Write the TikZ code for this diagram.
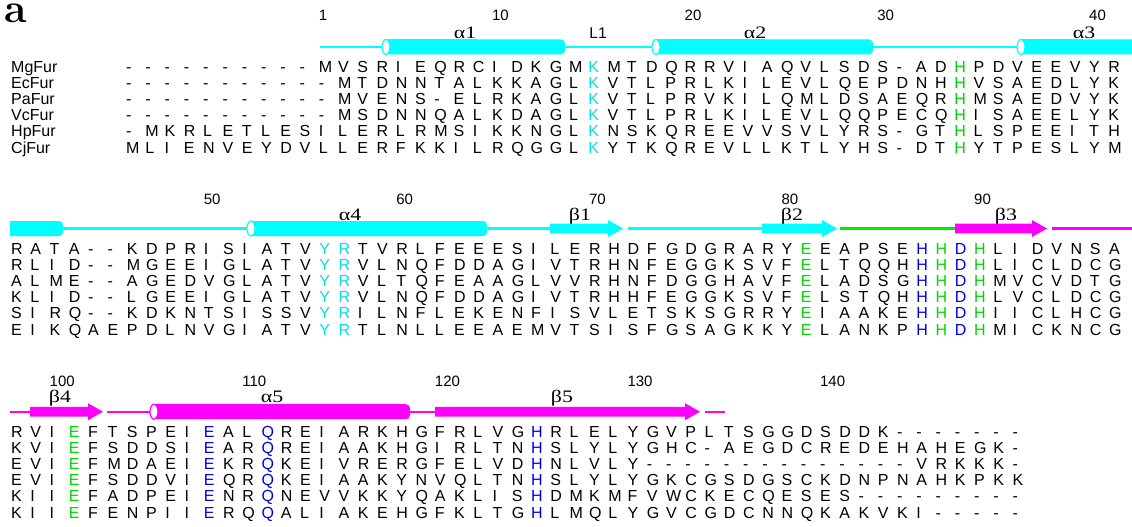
\documentclass[tikz,border=0pt]{standalone}
\usepackage{fontspec}
\newfontfamily\seqfont{Liberation Sans}
\newfontfamily\ssfont{Liberation Serif}

% structure colours
\definecolor{hcyan}{RGB}{0,255,255}
\definecolor{hmag}{RGB}{255,0,255}
\definecolor{hgreen}{RGB}{0,235,0}
% residue highlight colours
\definecolor{lcyan}{RGB}{0,225,240}
\definecolor{lgreen}{RGB}{0,215,0}
\definecolor{lblue}{RGB}{0,0,230}

\def\colw{19.26}
\newcount\colnum

% per-column residue colours: \setlc{block}{column}{colour}
\newcommand\setlc[3]{\expandafter\def\csname lc@#1@#2\endcsname{#3}}

\makeatletter
% \seqline{block}{row}{x of first column}{baseline}{residues}
\newcommand\seqline[5]{%
  \def\sq@blk{#1}\def\sq@row{#2}\def\sq@x{#3}\def\sq@y{#4}%
  \colnum=0
  \sq@next#5\relax}
\def\sq@next#1{%
  \ifx\relax#1%
  \else
    \sq@put{#1}%
    \advance\colnum by 1
    \expandafter\sq@next
  \fi}
\def\sq@put#1{%
  \ifcsname lc@\sq@blk @\the\colnum\endcsname
    \edef\sq@col{\csname lc@\sq@blk @\the\colnum\endcsname}%
  \else
    \def\sq@col{black}%
  \fi
  \node[res,text=\sq@col] (\sq@blk-\sq@row-\the\colnum) at ({\sq@x+\the\colnum*\colw},\sq@y) {#1};%
}
\makeatother

% element labels: Greek letter with a slightly widened serif face
\newcommand\sslabel[1]{\scalebox{1.25}[1]{#1}}

% secondary-structure elements: colour, x start, x end, centre y
\newcommand\coil[4]{\draw[coilline,#1] (#2,#4) -- (#3,#4);}
\newcommand\helix[4]{%
  \fill[#1,rounded corners=4pt] (#2,#4-7.5) rectangle (#3,#4+7.5);
  \fill[#1] (#2,#4-7.5) rectangle ({(#2+#3)/2},#4+7.5);
  \draw[#1,fill=white,line width=1.2pt] (#2,#4) ellipse [x radius=4pt, y radius=7.5pt];}
\newcommand\helixend[4]{%
  \fill[#1,rounded corners=4pt] (#2,#4-7.5) rectangle (#3,#4+7.5);
  \fill[#1] (#2,#4-7.5) rectangle ({(#2+#3)/2},#4+7.5);}
\newcommand\strand[4]{%
  \fill[#1] (#2,#4-4.8) -- ({#3-15},#4-4.8) -- ({#3-15},#4-8.5) -- (#3,#4)
    -- ({#3-15},#4+8.5) -- ({#3-15},#4+4.8) -- (#2,#4+4.8) -- cycle;}

% highlighted columns
\setlc{A}{24}{lcyan}\setlc{A}{43}{lgreen}
\setlc{B}{16}{lcyan}\setlc{B}{17}{lcyan}\setlc{B}{41}{lgreen}
\setlc{B}{47}{lblue}\setlc{B}{48}{lgreen}\setlc{B}{49}{lblue}\setlc{B}{50}{lgreen}
\setlc{C}{3}{lgreen}\setlc{C}{10}{lblue}\setlc{C}{13}{lblue}\setlc{C}{27}{lblue}

\begin{document}
\begin{tikzpicture}[x=1pt,y=-1pt,
  res/.style={font=\seqfont\fontsize{16}{16}\selectfont,anchor=base west,inner sep=0pt},
  seqname/.style={res},
  num/.style={font=\seqfont\fontsize{15}{15}\selectfont,anchor=base west,inner sep=0pt},
  sslab/.style={font=\ssfont\fontsize{17.5}{17.5}\selectfont,anchor=base,inner sep=0pt},
  looplab/.style={font=\seqfont\fontsize{15.5}{15.5}\selectfont,anchor=base,inner sep=0pt},
  coilline/.style={line width=2.2pt}]
\useasboundingbox (0,0) rectangle (1132,527);

% panel letter
\node[anchor=base west,inner sep=0pt,text height=18.5pt,text depth=0pt,
      font=\bfseries\fontsize{41}{41}\selectfont] (panel) at (4,23) {a};

% ---------------- block 1 ----------------
\foreach \n/\c in {1/10,10/19,20/29,30/39,40/50}
  \node[num] (numA\n) at ({126+\c*\colw},21) {\n};

\coil{hcyan}{320}{382}{47}
\helix{hcyan}{386}{565}{47}
\coil{hcyan}{565}{652}{47}
\helix{hcyan}{656}{873}{47}
\coil{hcyan}{873}{1017}{47}
\helix{hcyan}{1021}{1145}{47}

\node[sslab] (labA1) at (465,38.5) {\sslabel{α1}};
\node[looplab] (labL1) at (598,38.5) {L1};
\node[sslab] (labA2) at (755,38.5) {\sslabel{α2}};
\node[sslab] (labA3) at (1084,38.5) {\sslabel{α3}};

\foreach \nm [count=\k from 0] in {MgFur,EcFur,PaFur,VcFur,HpFur,CjFur}
  \node[seqname] (name-\nm) at (11,{72+\k*16.2}) {\nm};

\seqline{A}{1}{126}{72}{----------MVSRIEQRCIDKGMKMTDQRRVIAQVLSDS-ADHPDVEEVYR}
\seqline{A}{2}{126}{88.2}{-----------MTDNNTALKKAGLKVTLPRLKILEVLQEPDNHHVSAEDLYK}
\seqline{A}{3}{126}{104.4}{-----------MVENS-ELRKAGLKVTLPRVKILQMLDSAEQRHMSAEDVYK}
\seqline{A}{4}{126}{120.6}{-----------MSDNNQALKDAGLKVTLPRLKILEVLQQPECQHISAEELYK}
\seqline{A}{5}{126}{136.8}{-MKRLETLESILERLRMSIKKNGLKNSKQREEVVSVLYRS-GTHLSPEEITH}
\seqline{A}{6}{126}{153}{MLIENVEYDVLLERFKKILRQGGLKYTKQREVLLKTLYHS-DTHYTPESLYM}

% ---------------- block 2 ----------------
\foreach \n/\c in {50/10,60/20,70/30,80/40,90/50}
  \node[num] (numB\n) at ({11+\c*\colw},204) {\n};

\helixend{hcyan}{10}{63}{228.5}
\coil{hcyan}{63}{247}{228.5}
\helix{hcyan}{251}{487}{228.5}
\coil{hcyan}{487}{551}{228.5}
\strand{hcyan}{550}{623}{228.5}
\coil{hcyan}{628}{763}{228.5}
\strand{hcyan}{762}{837}{228.5}
\coil{hgreen}{840}{956}{228.5}
\strand{hmag}{955}{1047}{228.5}
\coil{hmag}{1052}{1132}{228.5}

\node[sslab] (labA4) at (350,220) {\sslabel{α4}};
\node[sslab] (labB1) at (580,220) {\sslabel{β1}};
\node[sslab] (labB2) at (792,220) {\sslabel{β2}};
\node[sslab] (labB3) at (1006,220) {\sslabel{β3}};

\seqline{B}{1}{11}{254}{RATA--KDPRISIATVYRTVRLFEEESILERHDFGDGRARYEEAPSEHHDHLIDVNSA}
\seqline{B}{2}{11}{270.2}{RLID--MGEEIGLATVYRVLNQFDDAGIVTRHNFEGGKSVFELTQQHHHDHLICLDCG}
\seqline{B}{3}{11}{286.4}{ALME--AGEDVGLATVYRVLTQFEAAGLVVRHNFDGGHAVFELADSGHHDHMVCVDTG}
\seqline{B}{4}{11}{302.6}{KLID--LGEEIGLATVYRVLNQFDDAGIVTRHHFEGGKSVFELSTQHHHDHLVCLDCG}
\seqline{B}{5}{11}{318.8}{SIRQ--KDKNTSISSVYRILNFLEKENFISVLETSKSGRRYEIAAKEHHDHIICLHCG}
\seqline{B}{6}{11}{335}{EIKQAEPDLNVGIATVYRTLNLLEEAEMVTSISFGSAGKKYELANKPHHDHMICKNCG}

% ---------------- block 3 ----------------
\foreach \n/\c in {100/2,110/12,120/22,130/32,140/42}
  \node[num] (numC\n) at ({11+\c*\colw},386.5) {\n};

\coil{hmag}{10}{31}{411.7}
\strand{hmag}{30}{103}{411.7}
\coil{hmag}{107}{150}{411.7}
\helix{hmag}{154}{410}{411.7}
\coil{hmag}{410}{436}{411.7}
\strand{hmag}{435}{700}{411.7}
\coil{hmag}{705}{725}{411.7}

\node[sslab] (labB4) at (60,402) {\sslabel{β4}};
\node[sslab] (labA5) at (272,402) {\sslabel{α5}};
\node[sslab] (labB5) at (562,402) {\sslabel{β5}};

\seqline{C}{1}{11}{437}{RVIEFTSPEIEALQREIARKHGFRLVGHRLELYGVPLTSGGDSDDK-------}
\seqline{C}{2}{11}{453.2}{KVIEFSDDSIEARQREIAAKHGIRLTNHSLYLYGHC-AEGDCREDEHAHEGK-}
\seqline{C}{3}{11}{469.4}{EVIEFMDAEIEKRQKEIVRERGFELVDHNLVLY--------------VRKKK-}
\seqline{C}{4}{11}{485.6}{EVIEFSDDVIEQRQKEIAAKYNVQLTNHSLYLYGKCGSDGSCKDNPNAHKPKK}
\seqline{C}{5}{11}{501.8}{KIIEFADPEIENRQNEVVKKYQAKLISHDMKMFVWCKECQESES---------}
\seqline{C}{6}{11}{518}{KIIEFENPIIERQQALIAKEHGFKLTGHLMQLYGVCGDCNNQKAKVKI-----}
\end{tikzpicture}
\end{document}
